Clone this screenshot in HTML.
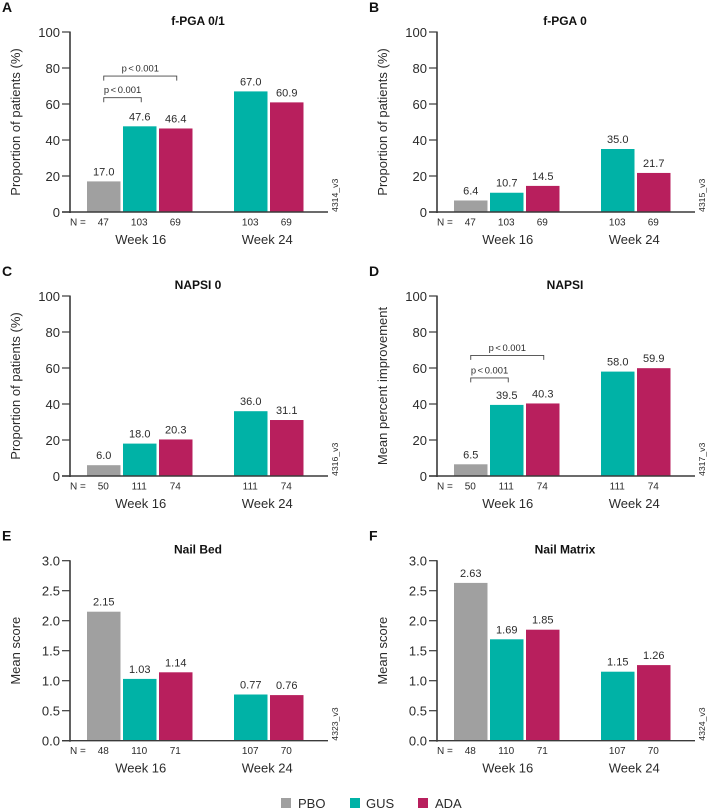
<!DOCTYPE html>
<html lang="en">
<head>
<meta charset="utf-8">
<title>Nail psoriasis outcomes at week 16 and week 24</title>
<style>
  html, body { margin: 0; padding: 0; background: #fff; }
  svg { display: block; font-family: "Liberation Sans", Arial, sans-serif; fill: #2b2b2b; }
</style>
</head>
<body>
<svg id="figure" width="708" height="811" viewBox="0 0 708 811" xmlns="http://www.w3.org/2000/svg">
  <g id="panel-a"></g>
  <g id="panel-b"></g>
  <g id="panel-c"></g>
  <g id="panel-d"></g>
  <g id="panel-e"></g>
  <g id="panel-f"></g>
  <g>
    <g>
      <rect x="281" y="798" width="10" height="10" fill="#a0a0a0"/>
      <text x="298" y="808" font-size="13">PBO</text>
    </g>
    <g>
      <rect x="350" y="798" width="10" height="10" fill="#00b2a6"/>
      <text x="366" y="808" font-size="13">GUS</text>
    </g>
    <g>
      <rect x="418" y="798" width="10" height="10" fill="#b81f5d"/>
      <text x="435" y="808" font-size="13">ADA</text>
    </g>
  </g>
</svg>
<script>
// ---- chart data ----
const weeks = ['Week 16', 'Week 24'];
const percentTicks = [0, 20, 40, 60, 80, 100];
const scoreTicks = [0, 0.5, 1, 1.5, 2, 2.5, 3];

// values order: PBO wk16, GUS wk16, ADA wk16, GUS wk24, ADA wk24
const fPga01Values = [17.0, 47.6, 46.4, 67.0, 60.9];
const fPga01N = [47, 103, 69, 103, 69];
const fPga0Values = [6.4, 10.7, 14.5, 35.0, 21.7];
const fPga0N = [47, 103, 69, 103, 69];
const napsi0Values = [6.0, 18.0, 20.3, 36.0, 31.1];
const napsi0N = [50, 111, 74, 111, 74];
const napsiValues = [6.5, 39.5, 40.3, 58.0, 59.9];
const napsiN = [50, 111, 74, 111, 74];
const nailBedValues = [2.15, 1.03, 1.14, 0.77, 0.76];
const nailBedN = [48, 110, 71, 107, 70];
const nailMatrixValues = [2.63, 1.69, 1.85, 1.15, 1.26];
const nailMatrixN = [48, 110, 71, 107, 70];

// p-value bracket levels on the value axis: [to GUS, to ADA]
const fPga01BracketLevels = [63.5, 75.5];
const napsiBracketLevels = [54.5, 67];
const pValueLabel = 'p < 0.001';

// ---- drawing ----
const SVG_NS = 'http://www.w3.org/2000/svg';
const BAR_COLORS = ['#a0a0a0', '#00b2a6', '#b81f5d', '#00b2a6', '#b81f5d'];
const PLOT_HEIGHT = 180;
const BAR_WIDTH = 33.5;

function make(parent, tag, attrs, content) {
  const el = document.createElementNS(SVG_NS, tag);
  for (const key in attrs) el.setAttribute(key, attrs[key]);
  if (content !== undefined) el.textContent = content;
  parent.appendChild(el);
  return el;
}

// x axis function: left edge of a bar by its index (3 in week 16, 2 in week 24)
function barLeft(axisX, i) {
  const slot = i < 3 ? 17 + i * 36 : 164 + (i - 3) * 36;
  return axisX + slot;
}
function barCenter(axisX, i) {
  return barLeft(axisX, i) + BAR_WIDTH / 2;
}
// y axis function
function valueY(top, maxValue, v) {
  return top + PLOT_HEIGHT * (1 - v / maxValue);
}

function drawPanel(cfg) {
  const g = document.getElementById(cfg.id);
  const x0 = cfg.axisX, top = cfg.top, base = top + PLOT_HEIGHT;
  const maxValue = cfg.ticks[cfg.ticks.length - 1];

  const letter = make(g, 'text', { x: x0 - 68, y: top - 20, 'font-size': 14, 'font-weight': 'bold', fill: '#111' }, cfg.letter);
  
  

  const title = make(g, 'text', { x: x0 + 128, y: top - 7, 'font-size': 12, 'font-weight': 'bold', 'text-anchor': 'middle', fill: '#111' }, cfg.title);
  
  

  const cy = top + 90;
  const titleX = x0 - 50;
  const yTitle = make(g, 'text', { x: titleX, y: cy, 'font-size': 13, 'text-anchor': 'middle', transform: 'rotate(-90 ' + titleX + ' ' + cy + ')' }, cfg.yTitle);
  
  

  cfg.values.forEach(function (v, i) {
    const y = valueY(top, maxValue, v);
    const bar = make(g, 'rect', { x: barLeft(x0, i), y: y, width: BAR_WIDTH, height: base - y, fill: BAR_COLORS[i] });
    
    

    const label = make(g, 'text', { x: barCenter(x0, i), y: y - 6, 'font-size': 11, 'text-anchor': 'middle' }, v.toFixed(cfg.decimals));
    
    

    const n = make(g, 'text', { x: barCenter(x0, i) - 0.5, y: base + 13.5, 'font-size': 10, 'text-anchor': 'middle' }, String(cfg.n[i]));
    
    
  });

  const yAxis = make(g, 'line', { x1: x0, x2: x0, y1: top - 0.5, y2: base + 1, stroke: '#3a3a3a', 'stroke-width': 1.6 });
  
  

  const xAxis = make(g, 'line', { x1: x0 - 8, x2: x0 + 258, y1: base, y2: base, stroke: '#3a3a3a', 'stroke-width': 1.4 });
  
  

  cfg.ticks.forEach(function (t) {
    const y = valueY(top, maxValue, t);
    const tick = make(g, 'line', { x1: x0 - 8, x2: x0, y1: y, y2: y, stroke: '#3a3a3a', 'stroke-width': 1.2 });
    
    

    const text = make(g, 'text', { x: x0 - 10, y: y + 4.8, 'font-size': 13, 'text-anchor': 'end' }, t.toFixed(cfg.tickDecimals));
    
    
  });

  const nPrefix = make(g, 'text', { x: x0, y: base + 13.5, 'font-size': 10 }, 'N =');
  
  

  const week1 = make(g, 'text', { x: barCenter(x0, 1) + 1, y: base + 32, 'font-size': 13, 'text-anchor': 'middle' }, weeks[0]);
  
  

  const week2 = make(g, 'text', { x: (barCenter(x0, 3) + barCenter(x0, 4)) / 2 - 1.5, y: base + 32, 'font-size': 13, 'text-anchor': 'middle' }, weeks[1]);
  
  

  const codeX = x0 + 268;
  const code = make(g, 'text', { x: codeX, y: base, 'font-size': 8.7, transform: 'rotate(-90 ' + codeX + ' ' + base + ')' }, cfg.code);
  
  

  if (cfg.brackets) {
    const startX = barCenter(x0, 0);
    cfg.brackets.forEach(function (level, k) {
      const endX = barCenter(x0, k + 1) + (k === 0 ? 1.5 : 1);
      const y = valueY(top, maxValue, level);
      const bracket = make(g, 'path', { d: 'M' + startX + ' ' + (y + 4.5) + 'V' + y + 'H' + endX + 'V' + (y + 4.5), fill: 'none', stroke: '#444', 'stroke-width': 0.9 });
      
      

      const p = make(g, 'text', { x: (startX + endX) / 2, y: y - 4.5, 'font-size': 9.4, 'text-anchor': 'middle', 'word-spacing': '-1px' }, pValueLabel);
      
      
    });
  }
}

const LEFT_AXIS = 70, RIGHT_AXIS = 437;
const ROW_1 = 32, ROW_2 = 296, ROW_3 = 560.7;
const PCT = 'Proportion of patients (%)';

drawPanel({ id: 'panel-a', letter: 'A', title: 'f-PGA 0/1', yTitle: PCT, code: '4314_v3', axisX: LEFT_AXIS, top: ROW_1, ticks: percentTicks, tickDecimals: 0, decimals: 1, values: fPga01Values, n: fPga01N, brackets: fPga01BracketLevels });
drawPanel({ id: 'panel-b', letter: 'B', title: 'f-PGA 0', yTitle: PCT, code: '4315_v3', axisX: RIGHT_AXIS, top: ROW_1, ticks: percentTicks, tickDecimals: 0, decimals: 1, values: fPga0Values, n: fPga0N });
drawPanel({ id: 'panel-c', letter: 'C', title: 'NAPSI 0', yTitle: PCT, code: '4316_v3', axisX: LEFT_AXIS, top: ROW_2, ticks: percentTicks, tickDecimals: 0, decimals: 1, values: napsi0Values, n: napsi0N });
drawPanel({ id: 'panel-d', letter: 'D', title: 'NAPSI', yTitle: 'Mean percent improvement', code: '4317_v3', axisX: RIGHT_AXIS, top: ROW_2, ticks: percentTicks, tickDecimals: 0, decimals: 1, values: napsiValues, n: napsiN, brackets: napsiBracketLevels });
drawPanel({ id: 'panel-e', letter: 'E', title: 'Nail Bed', yTitle: 'Mean score', code: '4323_v3', axisX: LEFT_AXIS, top: ROW_3, ticks: scoreTicks, tickDecimals: 1, decimals: 2, values: nailBedValues, n: nailBedN });
drawPanel({ id: 'panel-f', letter: 'F', title: 'Nail Matrix', yTitle: 'Mean score', code: '4324_v3', axisX: RIGHT_AXIS, top: ROW_3, ticks: scoreTicks, tickDecimals: 1, decimals: 2, values: nailMatrixValues, n: nailMatrixN });
</script>
</body>
</html>
